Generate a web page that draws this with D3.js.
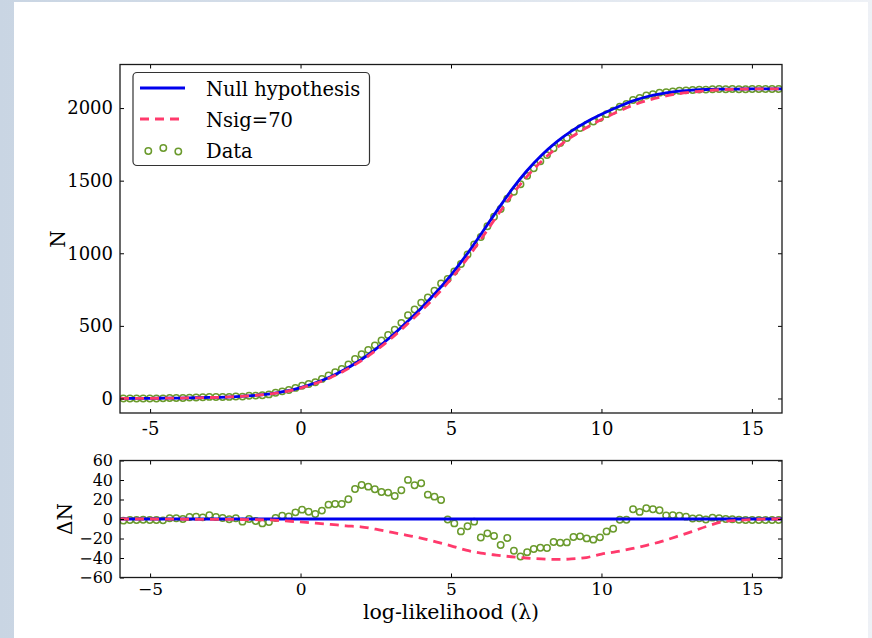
<!DOCTYPE html>
<html>
<head>
<meta charset="utf-8">
<script src="https://cdn.jsdelivr.net/npm/d3@7"></script>
<style>
  body { margin: 0; padding: 0; }
  svg { display: block; }
</style>
</head>
<body>
<svg id="graph" width="872" height="638"></svg>
<script>

  "use strict";

  // bin centres of the data histogram (lower panel and circles)
  var binX = [
    -5.89, -5.67, -5.45, -5.23, -5.01, -4.79, -4.57, -4.35, -4.13, -3.91,
    -3.69, -3.47, -3.25, -3.03, -2.81, -2.59, -2.37, -2.15, -1.93, -1.71,
    -1.49, -1.27, -1.05, -0.83, -0.61, -0.39, -0.17, 0.05, 0.27, 0.49,
    0.71, 0.93, 1.15, 1.37, 1.59, 1.81, 2.03, 2.25, 2.47, 2.69,
    2.91, 3.13, 3.35, 3.57, 3.79, 4.01, 4.23, 4.45, 4.67, 4.89,
    5.11, 5.33, 5.55, 5.77, 5.99, 6.21, 6.43, 6.65, 6.87, 7.09,
    7.31, 7.53, 7.75, 7.97, 8.19, 8.41, 8.63, 8.85, 9.07, 9.29,
    9.51, 9.73, 9.95, 10.17, 10.39, 10.61, 10.83, 11.05, 11.27, 11.49,
    11.71, 11.93, 12.15, 12.37, 12.59, 12.81, 13.03, 13.25, 13.47, 13.69,
    13.91, 14.13, 14.35, 14.57, 14.79, 15.01, 15.23, 15.45, 15.67, 15.89
  ];

  // cumulative data counts (upper panel)
  var dataN = [
    0, 0, 0, 0, 0, 0, 1, 3, 3, 3,
    6, 7, 8, 11, 10, 10, 11, 14, 13, 19,
    20, 22, 28, 39, 49, 58, 73, 88, 100, 112,
    135, 159, 181, 204, 234, 272, 305, 335, 366, 400,
    437, 474, 521, 574, 613, 659, 696, 742, 792, 823,
    875, 926, 992, 1060, 1112, 1186, 1252, 1305, 1376, 1424,
    1475, 1533, 1585, 1634, 1676, 1723, 1760, 1794, 1832, 1862,
    1886, 1907, 1932, 1958, 1982, 2009, 2028, 2056, 2069, 2087,
    2096, 2106, 2109, 2115, 2119, 2122, 2124, 2127, 2127, 2130,
    2131, 2130, 2131, 2130, 2130, 2131, 2131, 2131, 2131, 2131
  ];

  // data minus null hypothesis (lower panel)
  var dataDelta = [
    -1.7, -1, -1, -0.7, -1, -1, -1.4, 0.7, 0.7, 0,
    2, 2.4, 1.7, 3.8, 2, 1, -0.3, 0.7, -2.7, 0,
    -2, -4.5, -3, 1, 3.4, 2.7, 6.8, 9.6, 7.5, 5.1,
    8.6, 14.7, 15.4, 15.4, 20.2, 30.8, 34.9, 33.2, 30.5, 27.7,
    27.1, 23.6, 29.5, 40.1, 34.6, 36.6, 25, 22.9, 19.5, -0.5,
    -4.5, -12.7, -7.5, -2.7, -19, -14.7, -17.5, -26.7, -19.5, -32.5,
    -38.4, -34, -30.8, -29.5, -29.8, -23.6, -24.3, -24, -18.5, -17.8,
    -19.9, -21.2, -18.8, -12.7, -10, -0.8, -0.8, 10, 7.3, 11,
    10, 9, 3.7, 4, 3.4, 2.4, 0.5, 0.8, -0.5, 1.4,
    0.8, 0, -0.3, -0.7, -1, -1, -1, -1, -1, -1
  ];

  // sampling of the two model curves
  var curveX = [
    -6, -5.5, -5, -4.5, -4, -3.5, -3, -2.5, -2, -1.5, -1, -0.5, 0, 0.5, 1,
    1.5, 2, 2.5, 3, 3.5, 4, 4.5, 5, 5.5, 6, 6.5, 7, 7.5, 8, 8.5, 9,
    9.5, 10, 10.5, 11, 11.5, 12, 12.5, 13, 13.5, 14, 14.5, 15, 15.5, 16
  ];

  var nullN = [
    0, 0.5, 1, 2, 3, 5, 7, 10, 15, 22, 32, 50, 75, 108, 150,
    203, 265, 340, 425, 520, 620, 730, 850, 985, 1133, 1285, 1433, 1563, 1673, 1765, 1841,
    1904, 1957, 2004, 2046, 2078, 2100, 2115, 2123, 2128, 2130, 2131, 2132, 2132, 2132
  ];

  var sigN = [
    0, 0.5, 1, 1.9, 2.8, 4.7, 6.7, 9.6, 14.5, 21.3, 31, 48, 72, 103.8, 144.5,
    196, 257, 329.5, 411.5, 503.5, 600.5, 706.5, 822.5, 953, 1098, 1248, 1394.3, 1523, 1632, 1723.5, 1800,
    1864.5, 1921, 1970.5, 2015.5, 2051, 2077, 2097, 2110, 2120.5, 2127, 2129.6, 2131.5, 2132, 2132
  ];

  var sigDelta = [
    0, 0, 0, -0.1, -0.2, -0.3, -0.3, -0.4, -0.5, -0.7, -1, -2, -3, -4.2, -5.5,
    -7, -8, -10.5, -13.5, -16.5, -19.5, -23.5, -27.5, -32, -35, -37, -38.7, -40, -41, -41.5, -41,
    -39.5, -36, -33.5, -30.5, -27, -23, -18, -13, -7.5, -3, -1.4, -0.5, 0, 0
  ];

  var zeroX = [-6, 16];
  var zeroDelta = [0, 0];

  var xDomain = [-6, 16];
  var nDomain = [-100, 2300];
  var dDomain = [-60, 60];
  var xTicks = [-5, 0, 5, 10, 15];
  var nTicks = [0, 500, 1000, 1500, 2000];
  var dTicks = [-60, -40, -20, 0, 20, 40, 60];
  var legendLabels = ["Null hypothesis", "Nsig=70", "Data"];

  var W = 872, H = 638;
  var FONT = '"DejaVu Serif", "Liberation Serif", serif';
  var BLUE = "#0000ee", RED = "#ff3a6c", GREEN = "#6a9a2c";
  var DASH = "9,6";

  var zip = function(xs, ys) {
    /*
      deux listes -> liste de points
    */
    return xs.map((x, i) => ({x: x, y: ys[i]}));
  }

  var set_background = function(svg) {
    var grad = svg.append("defs").append("linearGradient")
      .attr("id", "bg").attr("x1", 0).attr("x2", 1).attr("y1", 0).attr("y2", 0);
    grad.append("stop").attr("offset", 0).attr("stop-color", "#c9d5e3");
    grad.append("stop").attr("offset", 1).attr("stop-color", "#eef1f6");
    svg.append("rect").attr("width", W).attr("height", H).attr("fill", "url(#bg)");
    svg.append("rect").attr("x", 14).attr("y", 2)
      .attr("width", 854).attr("height", H - 2).attr("fill", "white");
  }

  var make_panel = function(svg, box, yDomain, id) {
    var p = {box: box};
    p.x = d3.scaleLinear().domain(xDomain).range([box.left, box.right]);
    p.y = d3.scaleLinear().domain(yDomain).range([box.bottom, box.top]);
    svg.append("clipPath").attr("id", id).append("rect")
      .attr("x", box.left).attr("y", box.top)
      .attr("width", box.right - box.left).attr("height", box.bottom - box.top);
    p.g = svg.append("g").attr("clip-path", "url(#" + id + ")");
    return p;
  }

  var draw_line = function(p, pts, color, dash) {
    var line = d3.line().x(d => p.x(d.x)).y(d => p.y(d.y)).curve(d3.curveMonotoneX);
    p.g.append("path")
      .datum(pts)
      .attr("fill", "none")
      .attr("stroke", color)
      .attr("stroke-width", 2.8)
      .attr("stroke-dasharray", dash || null)
      .attr("d", line);
  }

  var draw_points = function(p, pts) {
    p.g.append("g")
      .selectAll("circle")
      .data(pts)
      .enter().append("circle")
      .attr("cx", d => p.x(d.x))
      .attr("cy", d => p.y(d.y))
      .attr("r", 3.2)
      .attr("fill", "none")
      .attr("stroke", GREEN)
      .attr("stroke-width", 1.5);
  }

  var set_axes = function(svg, p, yTicks, xFmt, yFmt, xfs, yfs, xpad) {
    var b = p.box;
    var style = (g, fs) => g
      .attr("font-family", FONT)
      .attr("font-size", fs)
      .call(g => g.select(".domain").remove())
      .call(g => g.selectAll(".tick line").attr("stroke", "black"))
      .call(g => g.selectAll(".tick text").attr("fill", "black"));

    svg.append("g")
      .attr("transform", `translate(0,${b.bottom})`)
      .call(d3.axisBottom(p.x).tickValues(xTicks).tickSize(-4).tickPadding(xpad).tickFormat(xFmt))
      .call(g => style(g, xfs));
    svg.append("g")
      .attr("transform", `translate(0,${b.top})`)
      .call(d3.axisTop(p.x).tickValues(xTicks).tickSize(-4).tickFormat(""))
      .call(g => style(g, xfs));
    svg.append("g")
      .attr("transform", `translate(${b.left},0)`)
      .call(d3.axisLeft(p.y).tickValues(yTicks).tickSize(-4).tickPadding(7).tickFormat(yFmt))
      .call(g => style(g, yfs));
    svg.append("g")
      .attr("transform", `translate(${b.right},0)`)
      .call(d3.axisRight(p.y).tickValues(yTicks).tickSize(-4).tickFormat(""))
      .call(g => style(g, yfs));

    svg.append("rect")
      .attr("x", b.left).attr("y", b.top)
      .attr("width", b.right - b.left).attr("height", b.bottom - b.top)
      .attr("fill", "none")
      .attr("stroke", "#1a1a1a")
      .attr("stroke-width", 1.3);
  }

  var set_legend = function(svg) {
    var lg = svg.append("g").attr("font-family", FONT).attr("font-size", 19.5);
    lg.append("rect")
      .attr("x", 133).attr("y", 72.5).attr("width", 236.5).attr("height", 93)
      .attr("rx", 4)
      .attr("fill", "white").attr("stroke", "#333").attr("stroke-width", 1.2);
    var rowY = [88, 119, 150];
    lg.append("line").attr("x1", 140).attr("x2", 185).attr("y1", rowY[0]).attr("y2", rowY[0])
      .attr("stroke", BLUE).attr("stroke-width", 2.8);
    lg.append("line").attr("x1", 140).attr("x2", 185).attr("y1", rowY[1]).attr("y2", rowY[1])
      .attr("stroke", RED).attr("stroke-width", 2.8).attr("stroke-dasharray", DASH);
    [[148.3, 1], [163.3, -2], [178.3, 1.5]].forEach(function(c) {
      lg.append("circle").attr("cx", c[0]).attr("cy", rowY[2] + c[1]).attr("r", 3.2)
        .attr("fill", "none").attr("stroke", GREEN).attr("stroke-width", 1.5);
    });
    lg.selectAll("text.lab")
      .data(legendLabels)
      .enter().append("text")
      .attr("class", "lab")
      .attr("x", 206)
      .attr("y", (d, i) => rowY[i] + 7.5)
      .attr("fill", "black")
      .text(d => d);
  }

  var set_labels = function(svg) {
    svg.append("text")
      .attr("transform", "translate(65,239) rotate(-90)")
      .attr("text-anchor", "middle")
      .attr("font-family", FONT).attr("font-size", 20)
      .text("N");
    svg.append("text")
      .attr("transform", "translate(72,519) rotate(-90)")
      .attr("text-anchor", "middle")
      .attr("font-family", FONT).attr("font-size", 20)
      .text("\u0394N");
    svg.append("text")
      .attr("x", 451).attr("y", 619)
      .attr("text-anchor", "middle")
      .attr("font-family", FONT).attr("font-size", 20.5)
      .text("log-likelihood (\u03bb)");
  }

  var init_graph = function() {
    var svg = d3.select("#graph");
    set_background(svg);

    var top = make_panel(svg, {left: 120, right: 782, top: 64.5, bottom: 413}, nDomain, "clipTop");
    draw_points(top, zip(binX, dataN));
    draw_line(top, zip(curveX, nullN), BLUE);
    draw_line(top, zip(curveX, sigN), RED, DASH);
    set_axes(svg, top, nTicks, d => String(d), d => String(d), 18, 18, 9);

    var bot = make_panel(svg, {left: 120, right: 782, top: 460.5, bottom: 577.5}, dDomain, "clipBot");
    draw_points(bot, zip(binX, dataDelta));
    draw_line(bot, zip(zeroX, zeroDelta), BLUE);
    draw_line(bot, zip(curveX, sigDelta), RED, DASH);
    var mfmt = d => (d < 0 ? "\u2212" + Math.abs(d) : String(d));
    set_axes(svg, bot, dTicks, mfmt, mfmt, 17, 16, 5);

    set_legend(svg);
    set_labels(svg);
  }

  init_graph();

</script>
</body>
</html>
